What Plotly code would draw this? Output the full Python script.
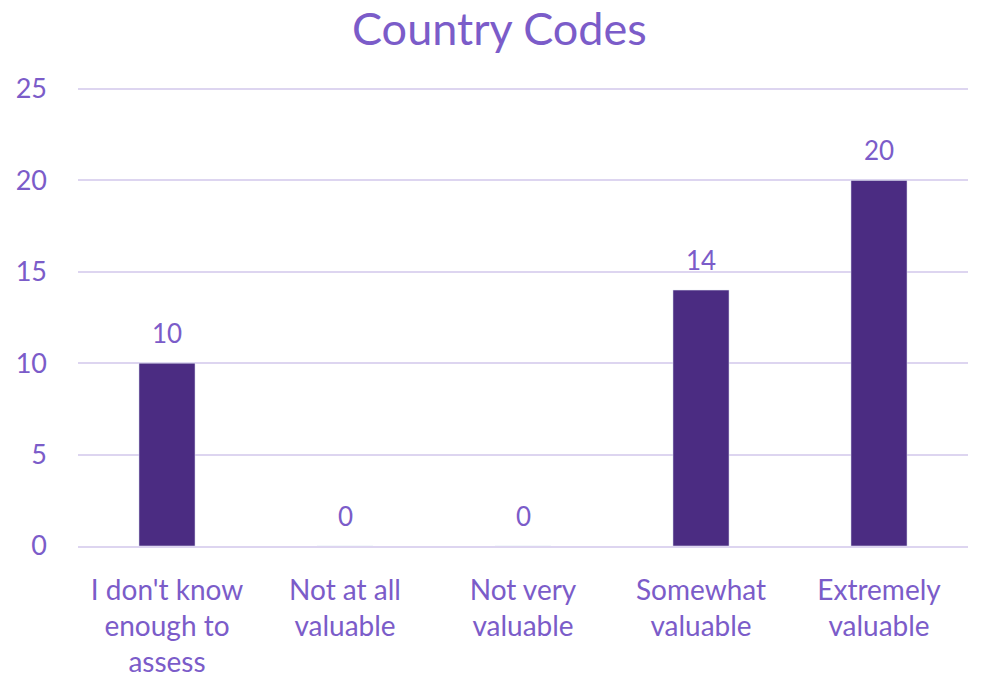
import plotly.graph_objects as go

categories = ["I don't know<br>enough to<br>assess", "Not at all<br>valuable", "Not very<br>valuable", "Somewhat<br>valuable", "Extremely<br>valuable"]
values = [10, 0, 0, 14, 20]
y_ticks = [0, 5, 10, 15, 20, 25]

text_color = "#7B5CC9"
bar_color = "#4B2C82"
grid_color = "#DDD5F0"
font_family = "Lato, 'Open Sans', sans-serif"

fig = go.Figure(go.Bar(
    x=categories, y=values, marker_color=bar_color,
))
for c, v in zip(categories, values):
    fig.add_annotation(x=c, y=v, text=str(v), showarrow=False, yanchor="bottom", yshift=12,
                       font=dict(size=26, color=text_color, family=font_family))
fig.update_layout(
    width=973, height=671,
    margin=dict(l=70, r=13, t=77, b=133),
    paper_bgcolor="white", plot_bgcolor="white",
    title=dict(text="Country Codes", x=0.505, xanchor="center", yref="container", y=0.968, yanchor="middle",
               font=dict(size=45, color=text_color, family=font_family)),
    bargap=0.685,
    font=dict(family=font_family, color=text_color, size=26),
    showlegend=False,
)
fig.update_yaxes(range=[0, 25.22], tickvals=y_ticks, showgrid=True, gridcolor=grid_color, gridwidth=2,
                 zeroline=False, showline=False, ticks="", ticklabelstandoff=30, automargin=False,
                 tickfont=dict(size=27, color=text_color))
fig.update_xaxes(showline=True, linecolor=grid_color, linewidth=2, ticks="", automargin=False,
                 tickfont=dict(size=28, color=text_color), ticklabelstandoff=18)
fig.write_html("out.html")
